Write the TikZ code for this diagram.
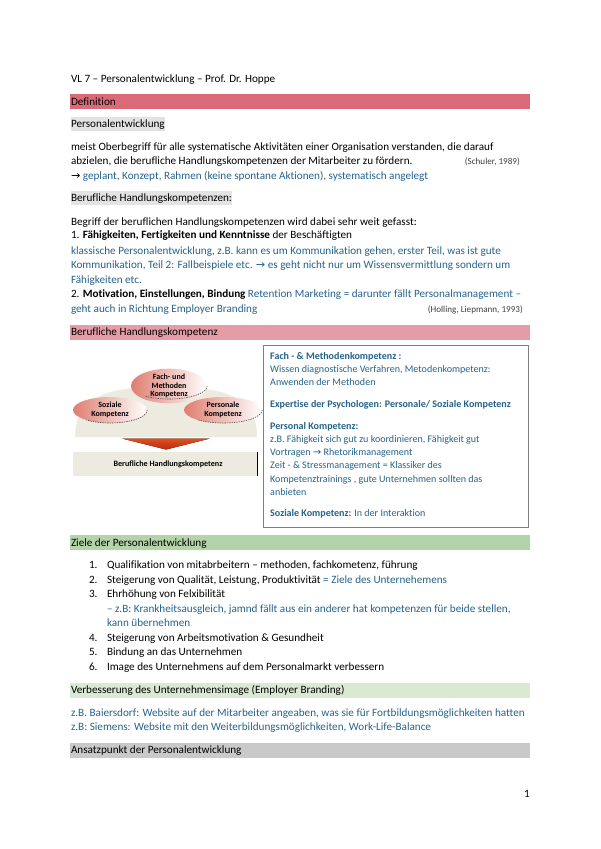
\documentclass[tikz,border=0pt]{standalone}
\usepackage{fontspec}
\setmainfont{Carlito}[Ligatures=NoCommon]
\newfontfamily\arrowfont{DejaVu Sans}
\usetikzlibrary{shapes.geometric}
\definecolor{barred}{HTML}{D96B78}
\definecolor{barrose}{HTML}{E69CA6}
\definecolor{bargreen}{HTML}{B3D4A9}
\definecolor{barpale}{HTML}{DAE9D3}
\definecolor{bargrey}{HTML}{C9C9C9}
\definecolor{hilite}{HTML}{E3E3E3}
\definecolor{noteblue}{HTML}{26638C}
\definecolor{sand}{HTML}{EDEBE0}
\definecolor{ellred}{HTML}{DF7E70}
\definecolor{boxline}{HTML}{7F7F7F}
\definecolor{arrowtop}{HTML}{E0501E}
\definecolor{arrowbot}{HTML}{B82A10}
\newcommand{\arr}{{\arrowfont →}}
\tikzset{
  txt/.style={anchor=base west,inner sep=0pt,outer sep=0pt,font=\fontsize{11.16}{13}\selectfont,text=black},
  note/.style={txt,text=noteblue},
  cite/.style={anchor=base east,inner sep=0pt,font=\fontsize{9.1}{11}\selectfont,text=black!75},
  small/.style={anchor=base west,inner sep=0pt,font=\fontsize{10.05}{12}\selectfont,text=noteblue},
  bar/.style={minimum width=460pt,minimum height=14.5pt,inner sep=0pt,anchor=north west},
  compell/.style={ellipse,inner sep=0pt,minimum height=26pt,left color=ellred,right color=white,draw=none,align=center,font=\bfseries\fontsize{8}{8.8}\selectfont},
  dashedge/.style={draw=black!70,line width=0.6pt,dash pattern=on 1.4pt off 1pt},
  diaglabel/.style={inner sep=0pt,font=\bfseries\fontsize{8.1}{9}\selectfont}
}
\begin{document}
\begin{tikzpicture}[x=1pt,y=-1pt]
\useasboundingbox[fill=white] (0,0) rectangle (600,849);
\node[txt] (title) at (71,82) {VL 7 – Personalentwicklung – Prof. Dr. Hoppe};
% section bars
\node[bar,fill=barred] (b1) at (70,94) {};
\node[txt] (t1) at (71,105) {Definition};
\fill[hilite] (71,116.5) rectangle (165,131);
\node[txt] (t2) at (71,127) {Personalentwicklung};
\node[txt] (l1) at (71,150) {meist Oberbegriff für alle systematische Aktivitäten einer Organisation verstanden, die darauf};
\node[txt] (l2) at (71,164) {abzielen, die berufliche Handlungskompetenzen der Mitarbeiter zu fördern.};
\node[cite] (c1) at (520,164) {(Schuler, 1989)};
\node[txt] (l3) at (71,179) {\arr\ \textcolor{noteblue}{geplant, Konzept, Rahmen (keine spontane Aktionen), systematisch angelegt}};
\fill[hilite] (71,191) rectangle (232,205);
\node[txt] (t3) at (71,201) {Berufliche Handlungskompetenzen:};
\node[txt] (l4) at (71,225) {Begriff der beruflichen Handlungskompetenzen wird dabei sehr weit gefasst:};
\node[txt] (l5) at (71,238.5) {1. \textbf{Fähigkeiten, Fertigkeiten und Kenntnisse} der Beschäftigten};
\node[note] (l6) at (71,254) {klassische Personalentwicklung, z.B. kann es um Kommunikation gehen, erster Teil, was ist gute};
\node[note] (l7) at (71,268) {Kommunikation, Teil 2: Fallbeispiele etc. \arr\ es geht nicht nur um Wissensvermittlung sondern um};
\node[note] (l8) at (71,283) {Fähigkeiten etc.};
\node[txt] (l9) at (71,297.7) {2. \textbf{Motivation, Einstellungen, Bindung} \textcolor{noteblue}{Retention Marketing = darunter fällt Personalmanagement –}};
\node[note] (l10) at (71,312.5) {geht auch in Richtung Employer Branding};
\node[cite] (c2) at (523,312.5) {(Holling, Liepmann, 1993)};
\node[bar,fill=barrose] (b2) at (70,324.8) {};
\node[txt] (t4) at (71,335) {Berufliche Handlungskompetenz};
% diagram
\fill[sand] (75,437) .. controls (75,415) and (85,403) .. (100,396) .. controls (125,383) and (205,383) .. (232,396) .. controls (248,403) and (257,415) .. (257,437) -- cycle;
\node[compell,minimum width=76pt] (fach) at (169,386) {Fach- und\\Methoden\\Kompetenz};
\node[compell,minimum width=74pt] (soz) at (110,410) {Soziale\\Kompetenz};
\node[compell,minimum width=78pt] (pers) at (223,410) {Personale\\Kompetenz};
\draw[dashedge] (fach.east) arc[start angle=0,end angle=-130,x radius=38pt,y radius=13pt];
\draw[dashedge] (soz.east) arc[start angle=0,end angle=-130,x radius=37pt,y radius=13pt];
\draw[dashedge] (pers.east) arc[start angle=0,end angle=-130,x radius=39pt,y radius=13pt];
\fill[top color=arrowtop,bottom color=arrowbot] (122,438.5) -- (210,438.5) -- (166,449.5) -- cycle;
\node[minimum width=184pt,minimum height=24pt,inner sep=0pt,fill=sand] (hk) at (165,464) {};
\draw[black,line width=0.7pt] (hk.north east) -- (hk.south east);
\node[diaglabel] (hkt) at (168,464) {Berufliche Handlungskompetenz};
% note box
\node[draw=boxline,line width=0.8pt,fill=white,minimum width=265pt,minimum height=181.5pt,inner sep=0pt,anchor=north west] (box) at (262.8,345) {};
\node[small] (n1) at (270,359) {\textbf{Fach - \& Methodenkompetenz :}};
\node[small] (n2) at (270,372) {Wissen diagnostische Verfahren, Metodenkompetenz:};
\node[small] (n3) at (270,385) {Anwenden der Methoden};
\node[small] (n4) at (270,407) {\textbf{Expertise der Psychologen: Personale/ Soziale Kompetenz}};
\node[small] (n5) at (270,429) {\textbf{Personal Kompetenz:}};
\node[small] (n6) at (270,442) {z.B. Fähigkeit sich gut zu koordinieren, Fähigkeit gut};
\node[small] (n7) at (270,455) {Vortragen \arr\ Rhetorikmanagement};
\node[small] (n8) at (270,468) {Zeit - \& Stressmanagement = Klassiker des};
\node[small] (n9) at (270,482) {Kompetenztrainings , gute Unternehmen sollten das};
\node[small] (n10) at (270,495) {anbieten};
\node[small] (n11) at (270,516) {\textbf{Soziale Kompetenz:} In der Interaktion};
% Ziele
\node[bar,fill=bargreen] (b3) at (70,535) {};
\node[txt] (t5) at (71,546) {Ziele der Personalentwicklung};
\node[txt] (a1) at (89,568) {1.};
\node[txt] (x1) at (107,568) {Qualifikation von mitabrbeitern – methoden, fachkometenz, führung};
\node[txt] (a2) at (89,583) {2.};
\node[txt] (x2) at (107,583) {Steigerung von Qualität, Leistung, Produktivität \textcolor{noteblue}{= Ziele des Unternehemens}};
\node[txt] (a3) at (89,597) {3.};
\node[txt] (x3) at (107,597) {Ehrhöhung von Felxibilität};
\node[note] (x3b) at (107,612) {– z.B: Krankheitsausgleich, jamnd fällt aus ein anderer hat kompetenzen für beide stellen,};
\node[note] (x3c) at (107,626) {kann übernehmen};
\node[txt] (a4) at (89,641) {4.};
\node[txt] (x4) at (107,641) {Steigerung von Arbeitsmotivation \& Gesundheit};
\node[txt] (a5) at (89,655) {5.};
\node[txt] (x5) at (107,655) {Bindung an das Unternehmen};
\node[txt] (a6) at (89,670) {6.};
\node[txt] (x6) at (107,670) {Image des Unternehmens auf dem Personalmarkt verbessern};
\node[bar,fill=barpale] (b4) at (70,683) {};
\node[txt] (t6) at (71,693) {Verbesserung des Unternehmensimage (Employer Branding)};
\node[note] (e1) at (71,716) {z.B. Baiersdorf: Website auf der Mitarbeiter angeaben, was sie für Fortbildungsmöglichkeiten hatten};
\node[note] (e2) at (71,730) {z.B: Siemens: Website mit den Weiterbildungsmöglichkeiten, Work-Life-Balance};
\node[bar,fill=bargrey] (b5) at (70,743) {};
\node[txt] (t7) at (71,753) {Ansatzpunkt der Personalentwicklung};
\node[txt] (pg) at (524,797) {1};
\end{tikzpicture}
\end{document}
